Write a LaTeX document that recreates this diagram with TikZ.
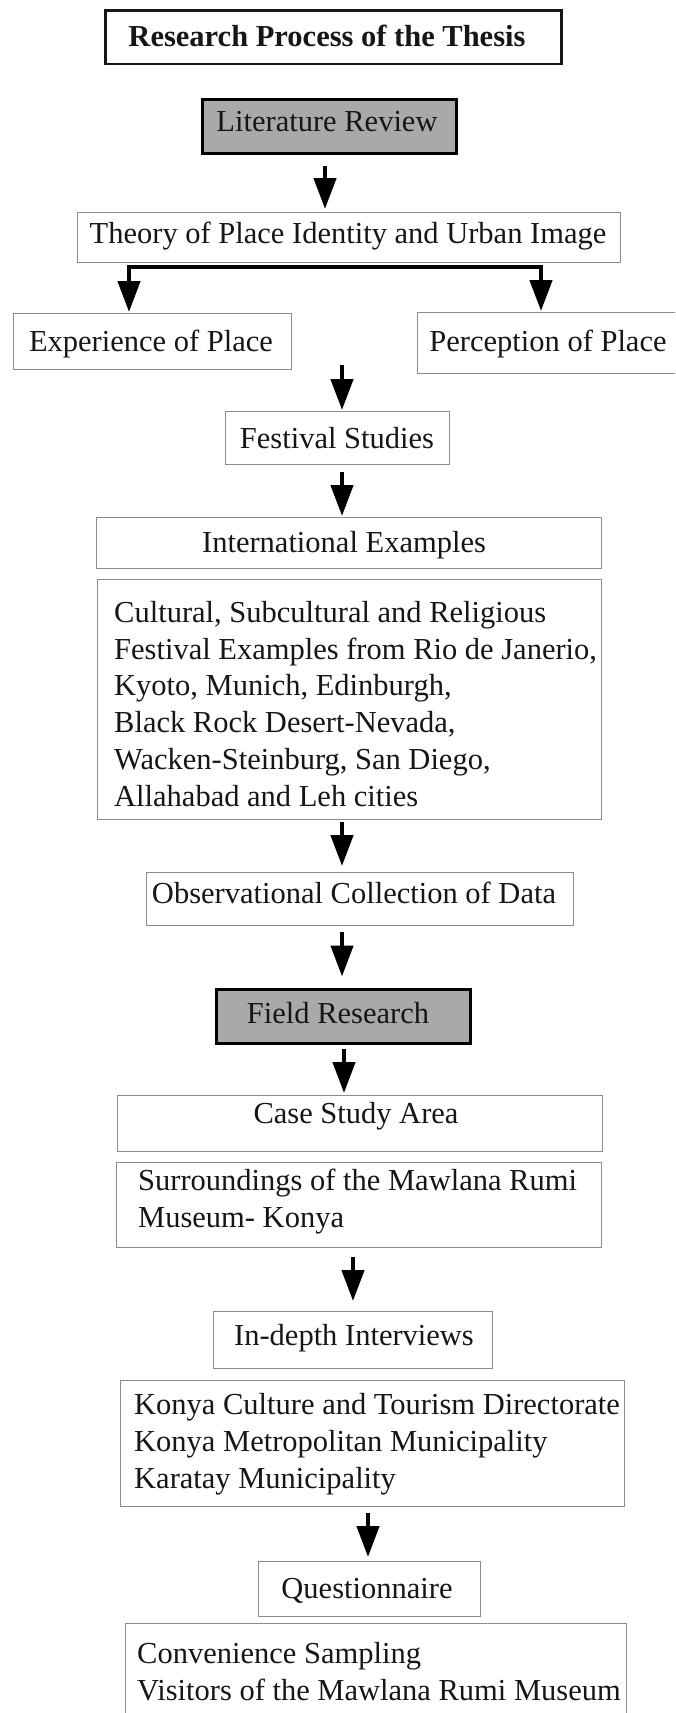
\documentclass[tikz,border=0pt]{standalone}
\usepackage{fontspec}
\setmainfont{Liberation Serif}
\usetikzlibrary{arrows.meta}
\definecolor{boxgray}{RGB}{140,140,140}
\definecolor{stagefill}{RGB}{170,168,168}
\definecolor{inkdark}{RGB}{22,22,22}
\tikzset{
  box/.style={draw=boxgray, line width=1.3pt, inner sep=0pt, anchor=north west},
  stage/.style={draw=black, fill=stagefill, line width=3.4pt, inner sep=0pt, anchor=north west,
                minimum width=254pt, minimum height=54pt},
  headbox/.style={draw=inkdark, line width=2.6pt, inner sep=0pt, anchor=north west},
  txt/.style={inner sep=0pt, font=\fontsize{30.5}{36.7}\selectfont, text=inkdark, anchor=base},
  % multi-line texts: the base anchor sits on the baseline of the last line
  txtl/.style={txt, anchor=base west, align=left},
  tipshape/.tip={Triangle[length=31pt,width=22pt]},
  arr/.style={line width=4.5pt, -tipshape},
}
\begin{document}
\begin{tikzpicture}[x=1pt, y=-1pt]
\useasboundingbox (0,0) rectangle (675,1713);
\fill[white] (0,0) rectangle (675,1713);
\clip (0,0) rectangle (675,1713);

% ---- frames ----
\node[headbox, minimum width=456pt, minimum height=53.4pt] (head) at (104.3,9.3) {};
\node[stage] (lit) at (200.5,97.5) {};
\node[box, minimum width=543pt, minimum height=50pt] (theory) at (77,212) {};
\node[box, minimum width=278pt, minimum height=56pt] (exp) at (13,313) {};
\node[box, minimum width=290pt, minimum height=61pt] (perc) at (417,312) {};
\node[box, minimum width=224pt, minimum height=53pt] (fest) at (225,411) {};
\node[box, minimum width=505pt, minimum height=51pt] (intl) at (96,517) {};
\node[box, minimum width=504pt, minimum height=240pt] (cases) at (97,579) {};
\node[box, minimum width=427pt, minimum height=53pt] (obs) at (146,872) {};
\node[stage] (field) at (214.5,987.5) {};
\node[box, minimum width=485pt, minimum height=56pt] (area) at (117,1095) {};
\node[box, minimum width=485pt, minimum height=85pt] (surr) at (116,1162) {};
\node[box, minimum width=279pt, minimum height=57pt] (indepth) at (213,1311) {};
\node[box, minimum width=504pt, minimum height=126pt] (inst) at (120,1380) {};
\node[box, minimum width=222pt, minimum height=55pt] (quest) at (258,1561) {};
\node[box, minimum width=501pt, minimum height=130pt] (sample) at (125,1623) {};

% ---- texts ----
\node[txt, font=\fontsize{30.5}{36.7}\selectfont\bfseries] (head-t) at (327,46.5) {Research Process of the Thesis};
\node[txt] (lit-t) at (327,131.5) {Literature Review};
\node[txt] (theory-t) at (348,243) {Theory of Place Identity and Urban Image};
\node[txt] (exp-t) at (151,351) {Experience of Place};
\node[txt] (perc-t) at (548,351) {Perception of Place};
\node[txt] (fest-t) at (337,448) {Festival Studies};
\node[txt] (intl-t) at (344,552.5) {International Examples};
\node[txtl] (cases-t) at (114,806) {Cultural, Subcultural and Religious\\
  Festival Examples from Rio de Janerio,\\
  Kyoto, Munich, Edinburgh,\\
  Black Rock Desert-Nevada,\\
  Wacken-Steinburg, San Diego,\\
  Allahabad and Leh cities};
\node[txt] (obs-t) at (354,903) {Observational Collection of Data};
\node[txt] (field-t) at (338,1023) {Field Research};
\node[txt] (area-t) at (356,1123) {Case Study Area};
\node[txtl] (surr-t) at (138,1227) {Surroundings of the Mawlana Rumi\\Museum- Konya};
\node[txt] (indepth-t) at (354,1345) {In-depth Interviews};
\node[txtl] (inst-t) at (134,1488) {Konya Culture and Tourism Directorate\\
  Konya Metropolitan Municipality\\
  Karatay Municipality};
\node[txt] (quest-t) at (367,1598) {Questionnaire};
\node[txtl] (sample-t) at (137,1700) {Convenience Sampling\\Visitors of the Mawlana Rumi Museum};

% ---- connectors ----
\coordinate (a1) at (325,166);
\draw[arr] (a1) -- ([yshift=3pt]a1 |- theory.north);

\coordinate (bl) at (129,267);
\coordinate (br) at (541,267);
\draw[line width=4.5pt, tipshape-tipshape, line join=miter]
  ([yshift=1pt]bl |- exp.north) -- (bl) -- (br) -- ([yshift=1pt]br |- perc.north);

\coordinate (a2) at (342,365);
\draw[arr] (a2) -- ([yshift=1pt]a2 |- fest.north);
\coordinate (a3) at (342,472);
\draw[arr] (a3) -- ([yshift=1pt]a3 |- intl.north);
\coordinate (a4) at (342,822);
\draw[arr] (a4) -- ([yshift=6pt]a4 |- obs.north);
\coordinate (a5) at (342,932);
\draw[arr] (a5) -- ([yshift=11pt]a5 |- field.north);
\coordinate (a6) at (344,1049);
\draw[arr] (a6) -- ([yshift=2pt]a6 |- area.north);
\coordinate (a7) at (353,1257);
\draw[arr] (a7) -- ([yshift=10pt]a7 |- indepth.north);
\coordinate (a8) at (368,1513);
\draw[arr] (a8) -- ([yshift=4pt]a8 |- quest.north);
\end{tikzpicture}
\end{document}
